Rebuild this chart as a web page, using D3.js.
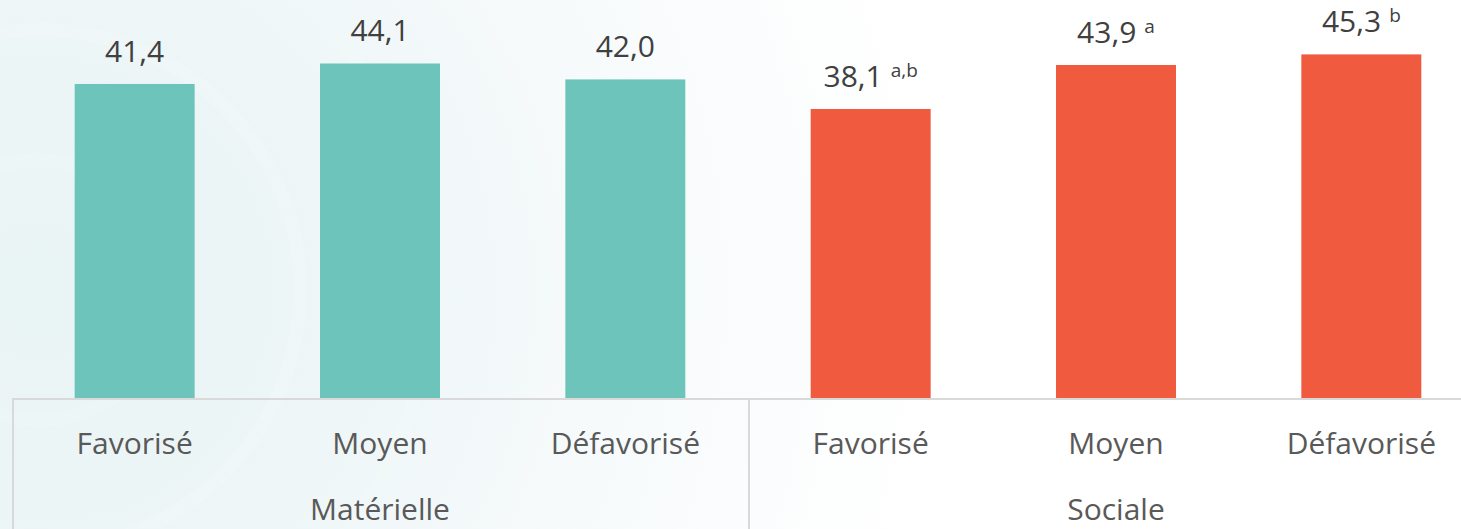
<!DOCTYPE html>
<html>
<head>
<meta charset="utf-8">
<script src="https://cdn.jsdelivr.net/npm/d3@7"></script>
<style>
  html, body { margin: 0; padding: 0; background: #fff; }
  svg { display: block; }
</style>
</head>
<body>
<svg id="chart"></svg>
<script>
// data
const groups = ['Matérielle', 'Sociale']
const categories = ['Favorisé', 'Moyen', 'Défavorisé']
const materielle = [41.4, 44.1, 42.0]
const sociale = [38.1, 43.9, 45.3]
const socialeNotes = ['a,b', 'a', 'b']
const materielleNotes = ['', '', '']

const width = 1461
const height = 529

let rows = []
groups.forEach((g, gi) => {
  let vals = gi === 0 ? materielle : sociale
  let notes = gi === 0 ? materielleNotes : socialeNotes
  categories.forEach((c, ci) => {
    rows.push({ key: g + '|' + c, group: g, cat: c, value: vals[ci], note: notes[ci] })
  })
})

let svg = d3.select('#chart')
  .attr('width', width)
  .attr('height', height)
  .style('font-family', '"Open Sans", sans-serif')

// faint ring background on the left
let defs = svg.append('defs')
let grad = defs.append('radialGradient')
  .attr('id', 'bg')
  .attr('gradientUnits', 'userSpaceOnUse')
  .attr('cx', 40).attr('cy', 290).attr('r', 900)
grad.append('stop').attr('offset', '0').attr('stop-color', '#e9f4f5')
grad.append('stop').attr('offset', '0.35').attr('stop-color', '#eef6f7')
grad.append('stop').attr('offset', '0.7').attr('stop-color', '#f8fbfc')
grad.append('stop').attr('offset', '1').attr('stop-color', '#ffffff')
svg.append('rect').attr('width', width).attr('height', height).attr('fill', 'url(#bg)')
svg.append('g').selectAll('circle')
  .data([130, 260, 390, 520, 650])
  .enter().append('circle')
  .attr('cx', 40).attr('cy', 290).attr('r', d => d)
  .attr('fill', 'none')
  .attr('stroke', '#ffffff')
  .attr('stroke-opacity', 0.12)
  .attr('stroke-width', 14)

let x = d3.scaleBand()
  .domain(rows.map(d => d.key))
  .range([12, 1484])
  .paddingInner(0.511)
  .paddingOuter(0.2555)

let y = d3.scaleLinear()
  .domain([0, 52.47])
  .range([398, 0])

let color = d3.scaleOrdinal().domain(groups).range(['#6dc4bb', '#f05b40'])

svg.append('g')
  .selectAll('rect')
  .data(rows)
  .enter().append('rect')
  .attr('x', d => x(d.key))
  .attr('y', d => y(d.value))
  .attr('width', x.bandwidth())
  .attr('height', d => y(0) - y(d.value))
  .attr('fill', d => color(d.group))

// value labels
let labels = svg.append('g')
  .selectAll('text')
  .data(rows)
  .enter().append('text')
  .attr('x', d => x(d.key) + x.bandwidth() / 2)
  .attr('y', d => y(d.value) - 22)
  .attr('text-anchor', 'middle')
  .attr('font-size', 30)
  .attr('fill', '#404040')
labels.append('tspan').text(d => d3.format('.1f')(d.value).replace('.', ','))
labels.filter(d => d.note)
  .append('tspan')
  .attr('dx', 8)
  .attr('dy', -10)
  .attr('font-size', 19)
  .text(d => d.note)

// axis lines
let step = x.step()
let axis = svg.append('g').attr('stroke', '#d9d9d9').attr('stroke-width', 2)
axis.append('line').attr('x1', 12).attr('x2', width).attr('y1', y(0) + 1).attr('y2', y(0) + 1)
axis.selectAll('line.sep')
  .data([0, 3, 6])
  .enter().append('line')
  .attr('class', 'sep')
  .attr('x1', d => 12 + d * step + 1)
  .attr('x2', d => 12 + d * step + 1)
  .attr('y1', y(0))
  .attr('y2', height)

// category labels
svg.append('g')
  .selectAll('text')
  .data(rows)
  .enter().append('text')
  .attr('x', d => x(d.key) + x.bandwidth() / 2)
  .attr('y', 454)
  .attr('text-anchor', 'middle')
  .attr('font-size', 30)
  .attr('fill', '#595959')
  .text(d => d.cat)

// group labels
svg.append('g')
  .selectAll('text')
  .data(groups)
  .enter().append('text')
  .attr('x', (g, gi) => 12 + (gi * 3 + 1.5) * step)
  .attr('y', 520)
  .attr('text-anchor', 'middle')
  .attr('font-size', 30)
  .attr('fill', '#595959')
  .text(g => g)
</script>
</body>
</html>
